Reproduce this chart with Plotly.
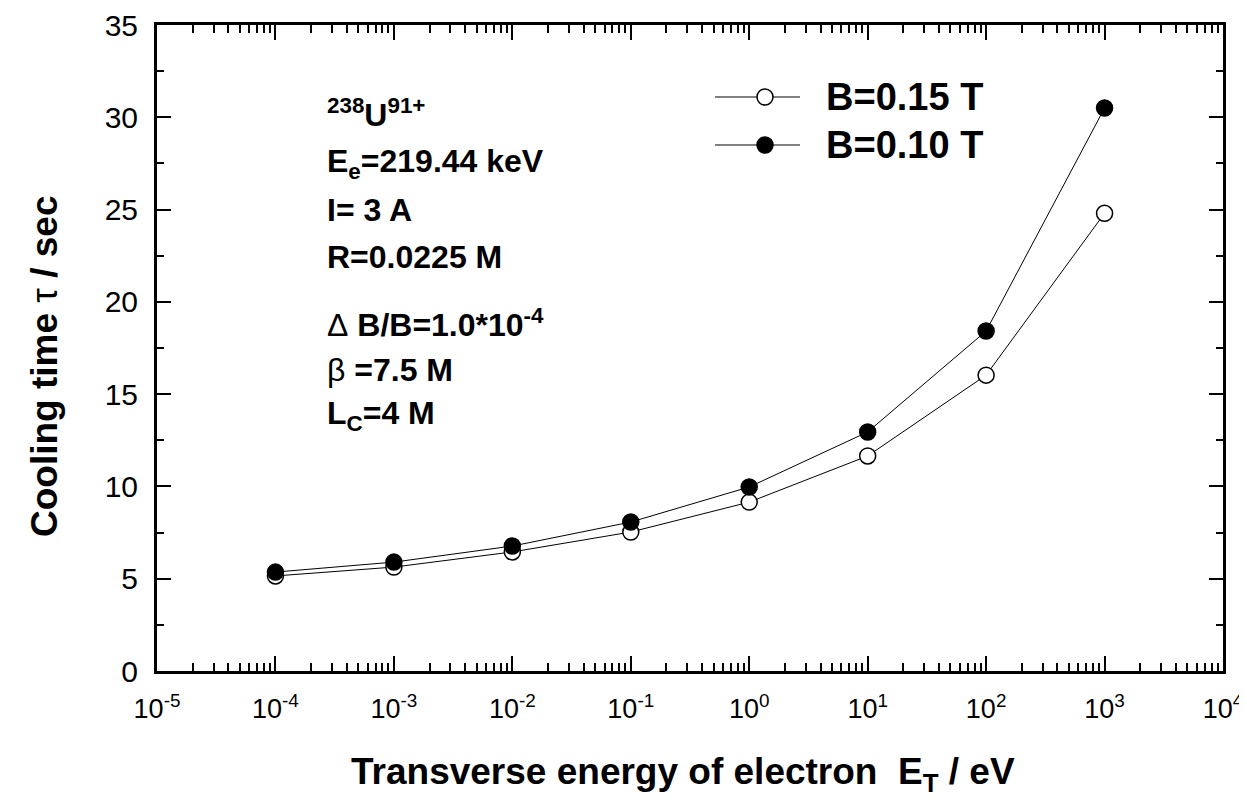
import plotly.graph_objects as go

energy = [1e-4, 1e-3, 1e-2, 1e-1, 1e0, 1e1, 1e2, 1e3]
tau_b015 = [5.15, 5.63, 6.45, 7.53, 9.15, 11.65, 16.03, 24.8]
tau_b010 = [5.36, 5.90, 6.77, 8.07, 9.97, 12.95, 18.42, 30.5]
series_names = ["B=0.15 T", "B=0.10 T"]
x_tickvals = [1e-5, 1e-4, 1e-3, 1e-2, 1e-1, 1e0, 1e1, 1e2, 1e3, 1e4]
x_ticktext = ["10<sup>-5</sup>", "10<sup>-4</sup>", "10<sup>-3</sup>", "10<sup>-2</sup>",
              "10<sup>-1</sup>", "10<sup>0</sup>", "10<sup>1</sup>", "10<sup>2</sup>",
              "10<sup>3</sup>", "10<sup>4</sup>"]
x_minor = [k * 10 ** n for n in range(-5, 4) for k in range(2, 10)]
info_lines = ["<sup>238</sup>U<sup>91+</sup>",
              "E<sub>e</sub>=219.44 keV",
              "I= 3 A",
              "R=0.0225 M",
              "<span style='font-weight:normal'>Δ</span> B/B=1.0*10<sup>-4</sup>",
              "<span style='font-weight:normal'>β</span> =7.5 M",
              "L<sub>C</sub>=4 M"]
info_y = [113, 163, 210, 257, 323, 370, 415]
x_title = "<b>Transverse energy of electron  E<sub>T</sub> / eV</b>"
y_title = "<b>Cooling time <span style='font-weight:normal'>τ</span> / sec</b>"

FONT = "Liberation Sans, Arial, sans-serif"

fig = go.Figure()
fig.add_trace(go.Scatter(x=energy, y=tau_b015, mode="lines+markers", name=series_names[0],
                         line=dict(color="black", width=1),
                         marker=dict(symbol="circle", size=16, color="white",
                                     line=dict(color="black", width=1.5)),
                         showlegend=False))
fig.add_trace(go.Scatter(x=energy, y=tau_b010, mode="lines+markers", name=series_names[1],
                         line=dict(color="black", width=1),
                         marker=dict(symbol="circle", size=16, color="black",
                                     line=dict(color="black", width=1.5)),
                         showlegend=False))

# page offset of 8px from the default body margin
OFF = 8
W, H = 1247 - OFF, 803 - OFF
PL, PR, PT, PB = 157, 1223, 25, 671   # plot area in page pixels
L, R, T, B = PL - OFF, OFF + W - PR, PT - OFF, OFF + H - PB
pw, ph = PR - PL, PB - PT

def px2paper(x, y):
    return (x - PL) / pw, (PB - y) / ph

# manual legend
for i, (name, fill) in enumerate(zip(series_names, ["white", "black"])):
    ypix = 97 + 48 * i
    x0, yp = px2paper(715, ypix)
    x1, _ = px2paper(800, ypix)
    xc, _ = px2paper(765, ypix)
    fig.add_shape(type="line", xref="paper", yref="paper", x0=x0, x1=x1, y0=yp, y1=yp,
                  line=dict(color="black", width=1))
    fig.add_shape(type="circle", xref="paper", yref="paper", xsizemode="pixel", ysizemode="pixel",
                  xanchor=xc, yanchor=yp, x0=-8, x1=8, y0=-8, y1=8,
                  fillcolor=fill, line=dict(color="black", width=1.5))
    xt, _ = px2paper(824, ypix)
    fig.add_annotation(xref="paper", yref="paper", x=xt, y=yp, text="<b>" + name + "</b>",
                       showarrow=False, xanchor="left", yanchor="middle",
                       font=dict(family=FONT, size=38, color="black"))

for txt, yp in zip(info_lines, info_y):
    xa, ya = px2paper(325, yp)
    fig.add_annotation(xref="paper", yref="paper", x=xa, y=ya, text="<b>" + txt + "</b>",
                       showarrow=False, xanchor="left", yanchor="middle",
                       font=dict(family=FONT, size=32, color="black"))

# axis titles
xa, ya = px2paper(683, 774)
fig.add_annotation(xref="paper", yref="paper", x=xa, y=ya, text=x_title, showarrow=False,
                   xanchor="center", yanchor="middle",
                   font=dict(family=FONT, size=37, color="black"))
xa, ya = px2paper(44, 366)
fig.add_annotation(xref="paper", yref="paper", x=xa, y=ya, text=y_title, showarrow=False,
                   xanchor="center", yanchor="middle", textangle=-90,
                   font=dict(family=FONT, size=37, color="black"))

axis_common = dict(showline=True, linecolor="black", linewidth=3, mirror="ticks",
                   ticks="inside", tickcolor="black", tickwidth=2, showgrid=False, zeroline=False)

fig.update_xaxes(type="log", range=[-5, 4], tickvals=x_tickvals, ticktext=x_ticktext,
                 ticklen=15, tickfont=dict(family=FONT, size=27, color="black"),
                 ticklabelstandoff=12,
                 minor=dict(tickvals=x_minor, ticks="inside", ticklen=8, tickcolor="black",
                            tickwidth=2, showgrid=False),
                 **axis_common)
fig.update_yaxes(range=[0, 35], dtick=5, ticklen=14,
                 tickfont=dict(family=FONT, size=30, color="black"),
                 ticklabelstandoff=10,
                 minor=dict(dtick=2.5, ticks="inside", ticklen=7, tickcolor="black",
                            tickwidth=2, showgrid=False),
                 **axis_common)

fig.update_layout(width=W, height=H, margin=dict(l=L, r=R, t=T, b=B, autoexpand=False),
                  plot_bgcolor="white", paper_bgcolor="white", showlegend=False,
                  font=dict(family=FONT, color="black"))

fig.write_html("out.html")
